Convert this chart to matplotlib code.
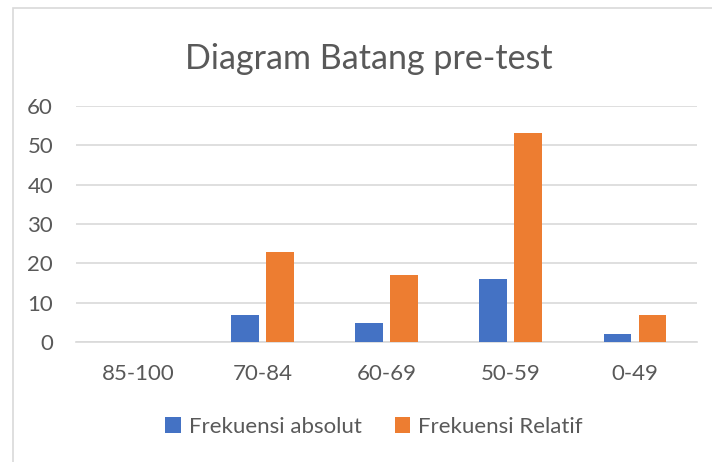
import matplotlib
matplotlib.use("Agg")
import matplotlib.pyplot as plt
import numpy as np
from matplotlib.patches import Rectangle

categories = ["85-100", "70-84", "60-69", "50-59", "0-49"]
absolut = [0, 7, 5, 16, 2]
relatif = [0, 23, 17, 53, 7]
series_names = ["Frekuensi absolut", "Frekuensi Relatif"]
title = "Diagram Batang pre-test"

plt.rcParams['font.family'] = ['Lato', 'DejaVu Sans']
txt = "#595959"
grid = "#d9d9d9"
blue = "#4472c4"
orange = "#ed7d31"

W, H = 712, 462
fig = plt.figure(figsize=(W / 100, H / 100), dpi=100)
fig.patches.append(Rectangle((12.5 / W, -10 / H), 720 / W, (462 - 7.5 + 10) / H, transform=fig.transFigure,
                             fill=False, edgecolor=grid, linewidth=1.2, clip_on=False))

ax = fig.add_axes([76 / W, 1 - 342.3 / H, 621 / W, (342.3 - 105.7) / H])
x = np.arange(len(categories))
bw = 0.222
off = 0.141
ax.bar(x - off, absolut, bw, color=blue, label=series_names[0], zorder=3)
ax.bar(x + off, relatif, bw, color=orange, label=series_names[1], zorder=3)

ax.set_xlim(-0.5, len(categories) - 0.5)
ax.set_ylim(0, 60)
ax.set_yticks(range(0, 61, 10))
ax.set_xticks(x)
ax.set_xticklabels(categories)
ax.yaxis.grid(True, color=grid, linewidth=1.2, zorder=0)
for s in ["top", "right", "left"]:
    ax.spines[s].set_visible(False)
ax.spines["bottom"].set_color(grid)
ax.spines["bottom"].set_linewidth(1.2)
ax.tick_params(axis="both", length=0, colors=txt, labelsize=16)
ax.tick_params(axis="x", pad=15.5)
ax.tick_params(axis="y", pad=16.5)

fig.text(368.5 / W, 1 - 69 / H, title, ha="center", va="baseline", fontsize=24.5, color=txt)

leg = fig.legend(loc="center", bbox_to_anchor=(374 / W, 1 - 427 / H), ncol=2, frameon=False,
                 fontsize=16, handlelength=0.7, handleheight=0.7, handletextpad=0.35,
                 columnspacing=1.5)
for t in leg.get_texts():
    t.set_color(txt)

fig.savefig("out.png", dpi=100)
